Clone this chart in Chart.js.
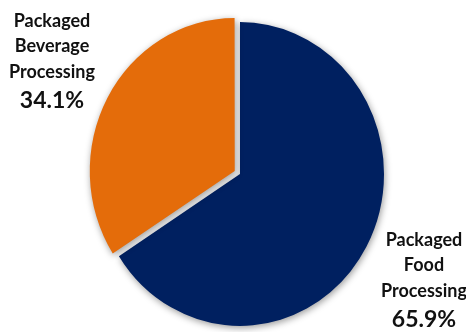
<!DOCTYPE html>
<html>
<head>
<meta charset="utf-8">
<script src="https://cdn.jsdelivr.net/npm/chart.js@4"></script>
<style>
  html, body { margin: 0; padding: 0; background: #fff; }
  #wrap { width: 466px; height: 332px; }
</style>
</head>
<body>
<div id="wrap"><canvas id="pieChart" width="466" height="332"></canvas></div>
<script>
// chart data
const categories = ["Packaged Food Processing", "Packaged Beverage Processing"];
const shares = [65.9, 34.1];
const labelLines = [
  ["Packaged", "Food", "Processing"],
  ["Packaged", "Beverage", "Processing"],
];

// label anchors (x center, first line y)
const labelSpots = [
  { x: 424, y: 240 },
  { x: 52, y: 21 },
];

const ctx = document.getElementById("pieChart").getContext("2d");

// the original pie is a little taller than it is wide
const stretchY = 1.055;

const shapePlugin = {
  id: "shape",
  beforeDatasetsDraw(chart) {
    const c = chart.ctx;
    const arc = chart.getDatasetMeta(0).data[0];
    c.save();
    c.translate(arc.x, arc.y);
    c.scale(1, stretchY);
    c.translate(-arc.x, -arc.y);
    c.shadowColor = "rgba(0,0,0,0.4)";
    c.shadowBlur = 7;
    c.shadowOffsetX = 1;
    c.shadowOffsetY = 2;
  },
  afterDatasetsDraw(chart) {
    chart.ctx.restore();
  },
};

const labelPlugin = {
  id: "outLabels",
  afterDraw(chart) {
    const c = chart.ctx;
    c.save();
    c.fillStyle = "#111";
    c.textAlign = "center";
    c.textBaseline = "middle";
    labelLines.forEach((lines, i) => {
      const spot = labelSpots[i];
      c.font = "bold 18px Lato";
      lines.forEach((line, j) => {
        c.fillText(line, spot.x, spot.y + j * 25.5);
      });
      c.font = "bold 23px Lato";
      c.fillText(shares[i].toFixed(1) + "%", spot.x, spot.y + lines.length * 25.5 + 3);
    });
    c.restore();
  },
};

new Chart(ctx, {
  type: "pie",
  data: {
    labels: categories,
    datasets: [
      {
        data: shares,
        backgroundColor: ["#002060", "#E46C0A"],
        borderWidth: 0,
        // chart.js scales this down (offset / 4 plus a bit), ~7px shift
        offset: [0, 24],
      },
    ],
  },
  options: {
    responsive: false,
    animation: false,
    radius: 144,
    layout: { padding: { left: 14, top: 16, right: 0, bottom: 0 } },
    plugins: {
      legend: { display: false },
      tooltip: { enabled: false },
    },
  },
  plugins: [shapePlugin, labelPlugin],
});
</script>
</body>
</html>
